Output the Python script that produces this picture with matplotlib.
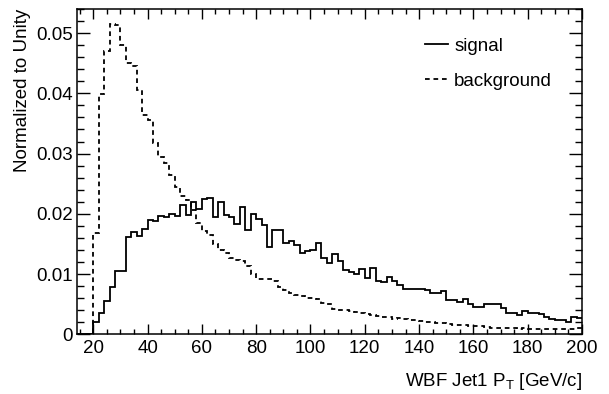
import numpy as np
import matplotlib
matplotlib.use("Agg")
import matplotlib.pyplot as plt
from matplotlib.ticker import MultipleLocator, FuncFormatter

plt.rcParams['font.family'] = ['Liberation Sans', 'DejaVu Sans']
plt.rcParams['mathtext.default'] = 'regular'

# Histogram binning (GeV)
x_lo, x_hi, bin_w = 14, 200, 2

signal = [0, 0, 0,
          .0020, .0036, .0055, .0078, .0105, .0105, .0162, .0170, .0164, .0175,
          .0189, .0188, .0196, .0194, .0199, .0197, .0215, .0198, .0219, .0208,
          .0224, .0226, .0194, .0220, .0198, .0195, .0183, .0212, .0173, .0200,
          .0191, .0182, .0145, .0173, .0173, .0151, .0155, .0148, .0135, .0138,
          .0140, .0152, .0126, .0118, .0133, .0122, .0107, .0103, .0100, .0108,
          .0093, .0110, .0089, .0087, .0095, .0089, .0082, .0075, .0075, .0075,
          .0075, .0074, .0069, .0068, .0072, .0057, .0057, .0054, .0058, .0051,
          .0045, .0046, .0051, .0050, .0050, .0044, .0035, .0035, .0032, .0038,
          .0036, .0036, .0033, .0029, .0026, .0024, .0023, .0021, .0028, .0027]

background = [0, 0, 0,
              .0168, .0399, .0471, .0515, .0513, .0481, .0450, .0445, .0406, .0364,
              .0356, .0317, .0295, .0284, .0265, .0245, .0229, .0223, .0206, .0184,
              .0172, .0165, .0150, .0140, .0135, .0126, .0124, .0121, .0113, .0100,
              .0092, .0092, .0091, .0088, .0078, .0074, .0068, .0065, .0063, .0061,
              .0060, .0059, .0052, .0050, .0042, .0041, .0040, .0039, .0037, .0036,
              .0033, .0032, .0030, .0029, .0028, .0026, .0027, .0026, .0024, .0023,
              .0022, .0021, .0020, .0019, .0018, .0017, .0016, .0015, .0015, .0014,
              .0013, .0013, .0012, .0011, .0011, .0010, .0010, .0010, .0009, .0010,
              .0009, .0009, .0008, .0008, .0008, .0009, .0008, .0008, .0009, .0010]

series_labels = ["signal", "background"]
x_title = "WBF Jet1 P$_T$ [GeV/c]"
y_title = "Normalized to Unity"

edges = np.arange(x_lo, x_hi + bin_w, bin_w)

fig = plt.figure(figsize=(6.09, 3.94), dpi=100)
ax = fig.add_axes([77 / 609, 1 - 334.3 / 394, 505 / 609, 325.3 / 394])

ax.stairs(signal, edges, color='black', lw=1.3, label=series_labels[0], baseline=None)
ax.stairs(background, edges, color='black', lw=1.3, linestyle=(0, (2.6, 2.1)),
          label=series_labels[1], baseline=None)

ax.set_xlim(x_lo, x_hi)
ax.set_ylim(0, 0.054)

ax.xaxis.set_major_locator(MultipleLocator(20))
ax.xaxis.set_minor_locator(MultipleLocator(5))
ax.yaxis.set_major_locator(MultipleLocator(0.01))
ax.yaxis.set_minor_locator(MultipleLocator(0.002))
ax.yaxis.set_major_formatter(FuncFormatter(lambda v, p: "%g" % round(v, 4)))

ax.tick_params(which='both', direction='in', top=True, right=True,
               labelsize=13.5, width=1, color='black')
ax.tick_params(axis='x', which='major', length=7.5, pad=4)
ax.tick_params(axis='x', which='minor', length=3.8)
ax.tick_params(axis='y', which='major', length=9.5, pad=3)
ax.tick_params(axis='y', which='minor', length=5)
for s in ax.spines.values():
    s.set_linewidth(1.1)

ax.set_xlabel(x_title, fontsize=13.5, loc='right', labelpad=10)
ax.set_ylabel(y_title, fontsize=13.5, loc='top', labelpad=4)

ax.legend(loc='upper left', bbox_to_anchor=(0.656, 0.963), frameon=False,
          fontsize=13.5, handlelength=1.2, handletextpad=0.35, labelspacing=0.95)

fig.savefig("out.png", dpi=100)
